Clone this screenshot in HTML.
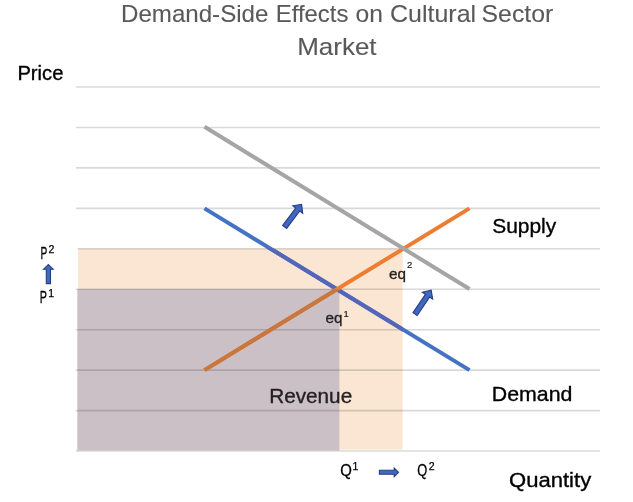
<!DOCTYPE html>
<html>
<head>
<meta charset="utf-8">
<style>
html,body{margin:0;padding:0;background:#fff;}
body{width:633px;height:502px;overflow:hidden;}
svg{display:block;will-change:transform;}
text{font-family:"Liberation Sans",sans-serif;}
</style>
</head>
<body>
<svg width="633" height="502" viewBox="0 0 633 502">
<defs>
<clipPath id="cpe"><rect x="78" y="248.6" width="324.6" height="201.00000000000003"/></clipPath>
<clipPath id="cpu"><rect x="77.3" y="289.1" width="262.09999999999997" height="161.29999999999995"/></clipPath>
</defs>
<rect width="633" height="502" fill="#fff"/>
<rect x="78" y="248.6" width="324.6" height="201.00000000000003" fill="#fae6d3"/>
<rect x="77.3" y="289.1" width="262.09999999999997" height="161.29999999999995" fill="#cac0c6"/>
<g stroke="#000" stroke-opacity="0.15" stroke-width="1.6">
<line x1="75.8" y1="87.00" x2="600" y2="87.00"/>
<line x1="75.8" y1="127.45" x2="600" y2="127.45"/>
<line x1="75.8" y1="167.90" x2="600" y2="167.90"/>
<line x1="75.8" y1="208.35" x2="600" y2="208.35"/>
<line x1="77.6" y1="248.80" x2="600" y2="248.80"/>
<line x1="75.8" y1="289.25" x2="600" y2="289.25"/>
<line x1="75.8" y1="329.70" x2="600" y2="329.70"/>
<line x1="75.8" y1="370.15" x2="600" y2="370.15"/>
<line x1="75.8" y1="410.60" x2="600" y2="410.60"/>
<line x1="75.8" y1="451.05" x2="600" y2="451.05"/>
</g>
<g stroke-width="4.0" fill="none">
<line x1="204.5" y1="208.35" x2="469.5" y2="370.15" stroke="#4472c4" />
<line x1="204.5" y1="208.35" x2="469.5" y2="370.15" stroke="#5566b8" clip-path="url(#cpe)"/>
<line x1="204.5" y1="370.15" x2="469.5" y2="208.35" stroke="#ed7d31" />
<line x1="204.5" y1="370.15" x2="469.5" y2="208.35" stroke="#c8773f" clip-path="url(#cpu)"/>
<line x1="204.5" y1="126.80" x2="469.5" y2="289.00" stroke="#a5a5a5" />
</g>
<g fill="#4167c2" stroke="#243f80" stroke-width="1.1" stroke-linejoin="miter">
<path transform="translate(301.6 204.4) rotate(37)" d="M0 0 L6.2 6.4 L2.5 6.4 L2.5 28.2 L-2.5 28.2 L-2.5 6.4 L-6.2 6.4 Z"/>
<path transform="translate(431.2 290.2) rotate(34)" d="M0 0 L6.2 6.6 L2.5 6.6 L2.5 28.8 L-2.5 28.8 L-2.5 6.6 L-6.2 6.6 Z"/>
<path transform="translate(48.4 264.6) rotate(0)" d="M0 0 L4.8 4.6 L2.1 4.6 L2.1 19.0 L-2.1 19.0 L-2.1 4.6 L-4.8 4.6 Z"/>
<path transform="translate(398.5 472.3) rotate(90)" d="M0 0 L4.3 4.3 L2.0 4.3 L2.0 19.1 L-2.0 19.1 L-2.0 4.3 L-4.3 4.3 Z"/>
</g>
<g fill="#595959" font-size="24" stroke="#595959" stroke-width="0.1">
<text x="121.0" y="22.1" textLength="147.4" lengthAdjust="spacingAndGlyphs">Demand-Side</text>
<text x="275.8" y="22.1" textLength="72.6" lengthAdjust="spacingAndGlyphs">Effects</text>
<text x="355.6" y="22.1" textLength="27.4" lengthAdjust="spacingAndGlyphs">on</text>
<text x="390.1" y="22.1" textLength="86.0" lengthAdjust="spacingAndGlyphs">Cultural</text>
<text x="481.6" y="22.1" textLength="71.6" lengthAdjust="spacingAndGlyphs">Sector</text>
<text x="297.2" y="55" textLength="79.4" lengthAdjust="spacingAndGlyphs">Market</text>
</g>
<g fill="#000" font-size="21" stroke="#000" stroke-width="0.35">
<text x="17.4" y="80.2" textLength="46.0" lengthAdjust="spacingAndGlyphs">Price</text>
<text x="492.2" y="233" textLength="64.0" lengthAdjust="spacingAndGlyphs">Supply</text>
<text x="491.8" y="400.6" textLength="80.6" lengthAdjust="spacingAndGlyphs">Demand</text>
<text x="509.0" y="486.9" textLength="82.2" lengthAdjust="spacingAndGlyphs">Quantity</text>
</g>
<text x="269.2" y="403.1" fill="#262022" stroke="#262022" stroke-width="0.35" font-size="21" textLength="83.0" lengthAdjust="spacingAndGlyphs">Revenue</text>
<g fill="#000" font-size="16.5" stroke="#000" stroke-width="0.3">
<text x="40.6" y="258.5" textLength="6.8" lengthAdjust="spacingAndGlyphs">P</text>
<text x="39.7" y="302.7" textLength="7.2" lengthAdjust="spacingAndGlyphs">P</text>
<text x="340.3" y="475.7" font-size="16" textLength="11.6" lengthAdjust="spacingAndGlyphs">Q</text>
<text x="417.2" y="475.8" font-size="16" textLength="10" lengthAdjust="spacingAndGlyphs">Q</text>
</g>
<g fill="#000" font-size="10.5" stroke="#000" stroke-width="0.25">
<text x="48.5" y="252.8">2</text>
<text x="48.2" y="296.7">1</text>
<text x="352.6" y="469.7">1</text>
<text x="428.8" y="469.9">2</text>
</g>
<g fill="#222" font-size="15" stroke="#222" stroke-width="0.3">
<text x="325.6" y="322.5" textLength="17" lengthAdjust="spacingAndGlyphs">eq</text>
<text x="389" y="279.1" textLength="17" lengthAdjust="spacingAndGlyphs">eq</text>
</g>
<g fill="#222" font-size="9.5" stroke="#222" stroke-width="0.2">
<text x="343.6" y="317.1">1</text>
<text x="407" y="267.5">2</text>
</g>
</svg>
</body>
</html>
